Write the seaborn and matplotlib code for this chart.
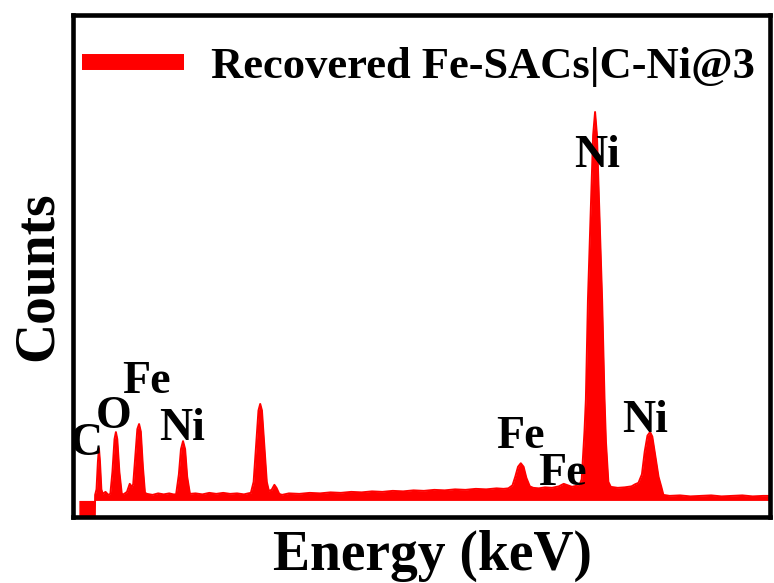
import matplotlib
matplotlib.use("Agg")
import matplotlib.pyplot as plt
from matplotlib.lines import Line2D
import seaborn as sns
import pandas as pd

# EDS spectrum sampled along the energy axis
energy_kev = [
    0.015, 0.245,
    0.25, 0.27, 0.29, 0.305, 0.32, 0.34, 0.36,
    0.40, 0.44,
    0.47, 0.50, 0.53, 0.55, 0.57, 0.60, 0.635,
    0.66, 0.71, 0.75, 0.78,
    0.80, 0.83, 0.86, 0.885, 0.91, 0.94, 0.97,
    1.00, 1.08, 1.16, 1.24, 1.32, 1.38,
    1.42, 1.46, 1.49, 1.52, 1.55, 1.58, 1.62,
    1.70, 1.80, 1.90, 2.00, 2.10, 2.20, 2.30, 2.40, 2.46,
    2.50, 2.54, 2.58, 2.61, 2.635, 2.66, 2.69, 2.73, 2.76,
    2.80, 2.84, 2.87, 2.91,
    2.95, 3.05, 3.20, 3.35, 3.50, 3.65, 3.80, 3.95, 4.10, 4.25, 4.40, 4.55,
    4.70, 4.85, 5.00, 5.15, 5.30, 5.45, 5.60, 5.75, 5.90, 6.05, 6.15,
    6.22, 6.28, 6.32, 6.36, 6.40, 6.44, 6.48, 6.53, 6.58,
    6.66, 6.75, 6.85, 6.95, 7.02, 7.08, 7.14, 7.20,
    7.24, 7.28, 7.32, 7.34, 7.37, 7.415, 7.445, 7.473, 7.50, 7.53, 7.575,
    7.61, 7.63, 7.665, 7.70,
    7.80, 7.90, 8.00, 8.05,
    8.10, 8.15, 8.19, 8.23, 8.268, 8.30, 8.34, 8.39, 8.43, 8.46,
    8.55, 8.70, 8.85, 9.00, 9.15, 9.30, 9.45, 9.60, 9.75, 9.90, 10.0,
]
counts = [
    0, 0,
    44, 55, 110, 137, 110, 55, 46,
    50, 44,
    46, 90, 155, 169, 155, 90, 46,
    45, 50, 66, 60,
    65, 120, 175, 185, 170, 100, 48,
    46, 44, 47, 45, 47, 45,
    45, 85, 135, 151, 135, 80, 46,
    47, 45, 48, 46, 48, 46, 47, 45, 47,
    48, 70, 150, 212, 225, 212, 150, 70, 52,
    54, 64, 58, 46,
    44, 47, 46, 48, 47, 49, 48, 50, 49, 51, 50, 52,
    51, 53, 52, 54, 53, 55, 54, 56, 55, 57, 56,
    57, 63, 80, 100, 107, 100, 78, 61, 58,
    57, 59, 58, 61, 66, 63, 60, 62,
    61, 75, 170, 233, 432, 631, 760, 806, 760, 631, 432,
    233, 150, 70, 60,
    58, 59, 61, 65,
    68, 85, 130, 162, 169, 160, 125, 80, 60, 44,
    42, 43, 41, 42, 43, 41, 42, 43, 41, 42, 42,
]
fill_floor = 33

# Element annotations (text, energy, counts at text baseline)
peak_labels = ["C", "O", "Fe", "Ni", "Fe", "Fe", "Ni", "Ni"]
label_energy = [0.118, 0.522, 0.999, 1.505, 6.39, 6.996, 7.50, 8.196]
label_counts = [123, 177, 247, 153, 137, 64, 697, 169]

series_name = "Recovered Fe-SACs|C-Ni@3"

sns.set_theme(style="white")
plt.rcParams["font.family"] = ["Liberation Serif", "DejaVu Serif"]
plt.rcParams["font.weight"] = "bold"
plt.rcParams["text.color"] = "black"

df = pd.DataFrame({"Energy": energy_kev, "Counts": counts})

fig = plt.figure(figsize=(7.74, 5.83), dpi=100)
ax = fig.add_axes([0.0943, 0.1132, 0.9005, 0.8619])

sns.lineplot(data=df, x="Energy", y="Counts", ax=ax, color="#ff0000",
             lw=1.4, estimator=None, sort=False, legend=False)
ax.fill_between(df["Energy"], df["Counts"], fill_floor, color="#ff0000",
                lw=0)

for txt, e, c in zip(peak_labels, label_energy, label_counts):
    ax.text(e, c, txt, ha="center", va="baseline", fontsize=33,
            fontweight="bold", color="black")

ax.set_xlim(-0.07, 10.0)
ax.set_ylim(0, 1000)
ax.set_xticks([])
ax.set_yticks([])
for sp in ax.spines.values():
    sp.set_color("black")
    sp.set_linewidth(3.3)

ax.set_xlabel("Energy (keV)", fontsize=40, fontweight="bold", color="black")
ax.set_ylabel("Counts", fontsize=40, fontweight="bold", color="black")
ax.xaxis.set_label_coords(0.5165, -0.026)
ax.yaxis.set_label_coords(-0.013, 0.48)

handle = Line2D([], [], color="#ff0000", lw=11.5, solid_capstyle="butt")
leg = ax.legend([handle], [series_name], loc="upper left",
                bbox_to_anchor=(0.013, 0.936), frameon=False, borderpad=0,
                borderaxespad=0, handlelength=2.3, handletextpad=0.6,
                prop={"size": 32, "weight": "bold"})
for t in leg.get_texts():
    t.set_color("black")

fig.savefig("out.png", dpi=100)
